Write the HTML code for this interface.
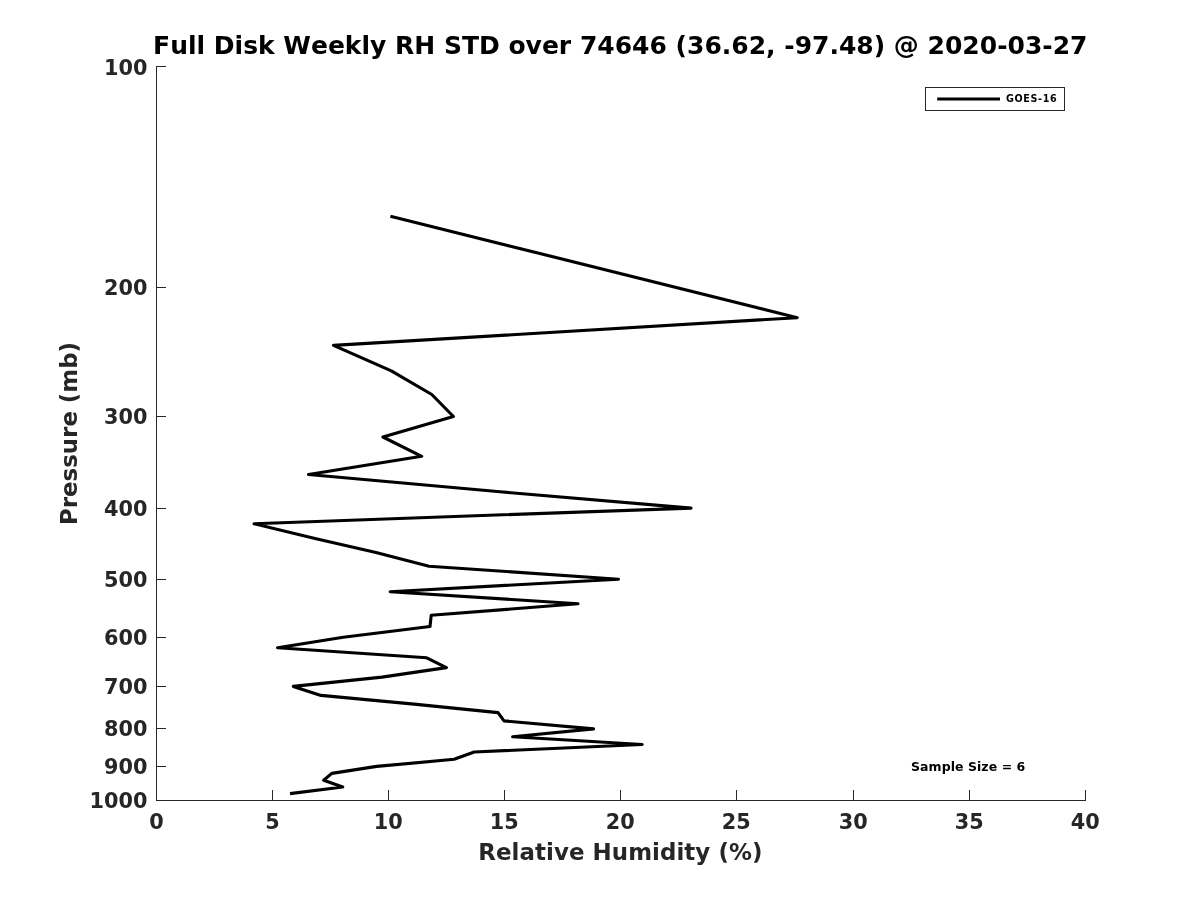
<!DOCTYPE html>
<html lang="en">
<head>
<meta charset="utf-8">
<title>Full Disk Weekly RH STD over 74646</title>
<style>
html,body{margin:0;padding:0;background:#fff;}
body{width:1200px;height:900px;overflow:hidden;}
svg{display:block;}
text{font-family:'DejaVu Sans','Liberation Sans',sans-serif;font-weight:bold;font-kerning:none;}
.tk{font-size:20.8px;fill:#262626;}
.ax{stroke:#262626;stroke-width:1;fill:none;shape-rendering:crispEdges;}
.lb{font-size:22.9px;fill:#262626;}
.xl{letter-spacing:0.065px;}
.tt{font-size:25px;fill:#000;}
.lg{font-size:9.6px;fill:#000;letter-spacing:0.62px;}
.ss{font-size:12.5px;fill:#000;letter-spacing:0.06px;}
</style>
</head>
<body>
<svg width="1200" height="900" viewBox="0 0 1200 900">
<rect x="0" y="0" width="1200" height="900" fill="#ffffff"/>

<path class="ax" d="M156.5 66V801M156 800.5H1086"/>
<path class="ax" d="M156.5 790V801M272.5 790V801M388.5 790V801M504.5 790V801M620.5 790V801M736.5 790V801M853.5 790V801M969.5 790V801M1085.5 790V801M156 66.5H166M156 287.5H166M156 416.5H166M156 508.5H166M156 579.5H166M156 637.5H166M156 686.5H166M156 728.5H166M156 766.5H166M156 800.5H166"/>
<text class="tk" x="156.5" y="829.3" text-anchor="middle">0</text>
<text class="tk" x="272.5" y="829.3" text-anchor="middle">5</text>
<text class="tk" x="388.2" y="829.3" text-anchor="middle">10</text>
<text class="tk" x="504.2" y="829.3" text-anchor="middle">15</text>
<text class="tk" x="620.2" y="829.3" text-anchor="middle">20</text>
<text class="tk" x="736.2" y="829.3" text-anchor="middle">25</text>
<text class="tk" x="853.2" y="829.3" text-anchor="middle">30</text>
<text class="tk" x="969.2" y="829.3" text-anchor="middle">35</text>
<text class="tk" x="1085.2" y="829.3" text-anchor="middle">40</text>
<text class="tk" x="147.4" y="74.5" text-anchor="end">100</text>
<text class="tk" x="147.4" y="295.1" text-anchor="end">200</text>
<text class="tk" x="147.4" y="424.1" text-anchor="end">300</text>
<text class="tk" x="147.4" y="516.1" text-anchor="end">400</text>
<text class="tk" x="147.4" y="587.1" text-anchor="end">500</text>
<text class="tk" x="147.4" y="645.1" text-anchor="end">600</text>
<text class="tk" x="147.4" y="694.1" text-anchor="end">700</text>
<text class="tk" x="147.4" y="736.1" text-anchor="end">800</text>
<text class="tk" x="147.4" y="774.1" text-anchor="end">900</text>
<text class="tk" x="147.4" y="807.8" text-anchor="end">1000</text>
<text class="lb xl" x="620.4" y="859.5" text-anchor="middle">Relative Humidity (%)</text>
<text class="lb" transform="translate(76.5,433.5) rotate(-90)" text-anchor="middle">Pressure (mb)</text>
<text class="tt" x="620.3" y="53.6" text-anchor="middle" id="title">Full Disk Weekly RH STD over 74646 (36.62, -97.48) @ 2020-03-27</text>
<polyline points="390.4,216.2 797.2,317.7 333.5,345.4 391.3,370.9 431.8,394.5 453.4,416.5 382.9,437.0 421.7,456.3 308.5,474.5 500.0,491.8 691.0,508.1 254.0,523.7 315.0,538.5 376.0,552.6 429.0,566.2 618.5,579.2 390.2,591.7 578.0,603.7 431.2,615.3 430.0,626.5 343.3,637.3 277.6,647.7 426.7,657.8 446.4,667.6 382.0,677.1 293.3,686.4 321.0,695.4 414.0,704.1 498.0,712.6 504.0,720.9 593.6,728.9 512.6,736.8 642.2,744.5 474.2,752.0 454.2,759.3 376.7,766.4 331.8,773.4 323.7,780.3 342.7,787.0 290.0,793.6" fill="none" stroke="#000" stroke-width="3.125" stroke-linejoin="round" stroke-linecap="butt"/>
<rect x="925.5" y="87.5" width="139" height="23" fill="#fff" stroke="#262626" stroke-width="1" shape-rendering="crispEdges"/>
<line x1="937.2" y1="99" x2="1000" y2="99" stroke="#000" stroke-width="3.125"/>
<text class="lg" x="1006.1" y="101.8">GOES-16</text>
<text class="ss" x="911" y="770.7">Sample Size = 6</text>
</svg>
</body>
</html>
